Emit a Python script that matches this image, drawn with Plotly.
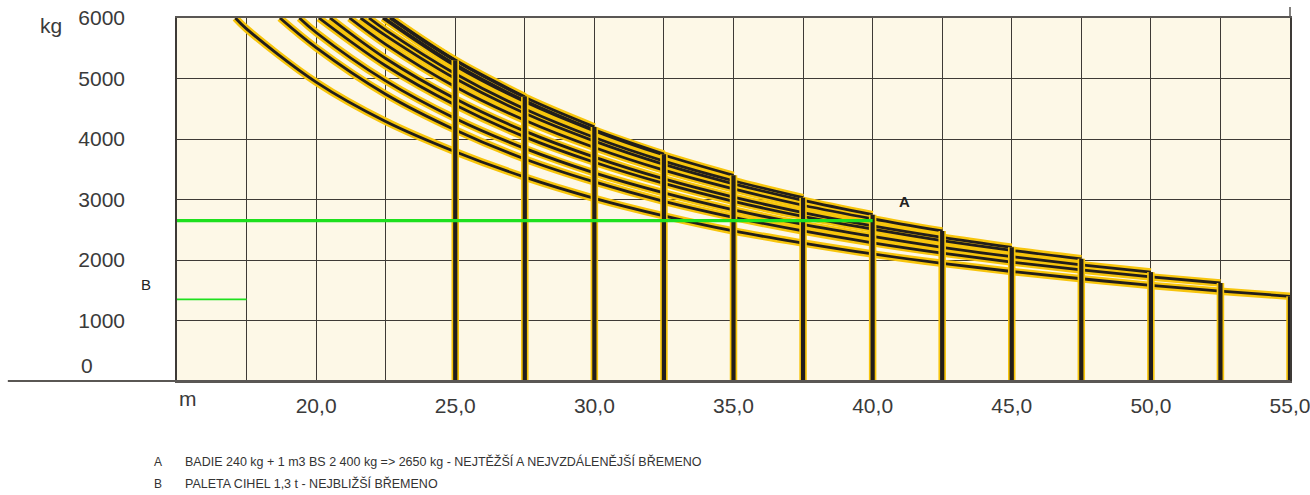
import plotly.graph_objects as go

# ---- data ----
jib_lengths = [25, 27.5, 30, 32.5, 35, 37.5, 40, 42.5, 45, 47.5, 50, 52.5, 55]
tip_loads = [5300, 4700, 4200, 3750, 3400, 3030, 2750, 2480, 2210, 2020, 1800, 1620, 1400]

r_j25 = [22.7, 23.75, 25]
kg_j25 = [6000, 5655, 5300]
r_j27_5 = [22.7, 25, 27.5]
kg_j27_5 = [6000, 5305, 4700]
r_j30 = [22.65, 25, 27.5, 30]
kg_j30 = [6000, 5295, 4690, 4200]
r_j32_5 = [22.45, 25, 27.5, 30, 32.5]
kg_j32_5 = [6000, 5235, 4635, 4150, 3750]
r_j35 = [22.4, 25, 27.5, 30, 32.5, 35]
kg_j35 = [6000, 5210, 4615, 4135, 3735, 3400]
r_j37_5 = [21.9, 22.5, 25, 27.5, 30, 32.5, 35, 37.5]
kg_j37_5 = [6000, 5800, 5080, 4495, 4025, 3635, 3310, 3030]
r_j40 = [21.6, 22.5, 25, 27.5, 30, 32.5, 35, 37.5, 40]
kg_j40 = [6000, 5710, 5000, 4425, 3965, 3580, 3260, 2985, 2750]
r_j42_5 = [21.2, 22.5, 25, 27.5, 30, 32.5, 35, 37.5, 40, 42.5]
kg_j42_5 = [6000, 5565, 4865, 4310, 3860, 3485, 3175, 2905, 2680, 2480]
r_j45 = [20.5, 22.5, 25, 27.5, 30, 32.5, 35, 37.5, 40, 42.5, 45]
kg_j45 = [6000, 5330, 4665, 4130, 3700, 3340, 3040, 2785, 2565, 2375, 2210]
r_j47_5 = [20.1, 22.5, 25, 27.5, 30, 32.5, 35, 37.5, 40, 42.5, 45, 47.5]
kg_j47_5 = [6000, 5210, 4560, 4035, 3615, 3265, 2970, 2720, 2510, 2320, 2160, 2020]
r_j50 = [19.4, 20, 22.5, 25, 27.5, 30, 32.5, 35, 37.5, 40, 42.5, 45, 47.5, 50]
kg_j50 = [6000, 5760, 4960, 4340, 3845, 3440, 3110, 2830, 2590, 2390, 2210, 2055, 1920, 1800]
r_j52_5 = [18.7, 20, 22.5, 25, 27.5, 30, 32.5, 35, 37.5, 40, 42.5, 45, 47.5, 50, 52.5]
kg_j52_5 = [6000, 5510, 4740, 4150, 3670, 3290, 2970, 2705, 2480, 2285, 2115, 1965, 1835, 1720, 1620]
r_j55 = [17.1, 17.5, 20, 22.5, 25, 27.5, 30, 32.5, 35, 37.5, 40, 42.5, 45, 47.5, 50, 52.5, 55]
kg_j55 = [6000, 5820, 4940, 4290, 3790, 3370, 3020, 2730, 2480, 2280, 2100, 1945, 1810, 1690, 1580, 1485, 1400]

load_A_kg = 2650
load_A_radius = 40
load_B_kg = 1350
load_B_radius = 17.5

x_tick_vals = [20, 25, 30, 35, 40, 45, 50, 55]
x_tick_text = ["20,0", "25,0", "30,0", "35,0", "40,0", "45,0", "50,0", "55,0"]
y_tick_vals = [1000, 2000, 3000, 4000, 5000, 6000]
y_tick_text = ["1000", "2000", "3000", "4000", "5000", "6000"]

note_A = "BADIE 240 kg + 1 m3 BS 2 400 kg => 2650 kg - NEJTĚŽŠÍ A NEJVZDÁLENĚJŠÍ BŘEMENO"
note_B = "PALETA CIHEL 1,3 t - NEJBLIŽŠÍ BŘEMENO"

# ---- figure ----
curves = [(r_j25, kg_j25), (r_j27_5, kg_j27_5), (r_j30, kg_j30), (r_j32_5, kg_j32_5),
          (r_j35, kg_j35), (r_j37_5, kg_j37_5), (r_j40, kg_j40), (r_j42_5, kg_j42_5),
          (r_j45, kg_j45), (r_j47_5, kg_j47_5), (r_j50, kg_j50), (r_j52_5, kg_j52_5),
          (r_j55, kg_j55)]

YELLOW = "#F7C50C"
BLACK = "#221E1B"
GREEN = "#1EE01E"
GRID = "#3E3A36"
FONT = "Liberation Sans, Arial, sans-serif"

fig = go.Figure()

for r, kg in curves:
    fig.add_trace(go.Scatter(x=r, y=kg, mode="lines", line=dict(color=YELLOW, width=7.5, shape="spline"),
                             hoverinfo="skip", showlegend=False))
for r, kg in curves:
    fig.add_trace(go.Scatter(x=r, y=kg, mode="lines", line=dict(color=BLACK, width=2.8, shape="spline"),
                             showlegend=False))

bar_x, bar_y = [], []
for j, e in zip(jib_lengths, tip_loads):
    bar_x += [j, j, None]
    bar_y += [0, e, None]
fig.add_trace(go.Scatter(x=bar_x, y=bar_y, mode="lines", line=dict(color=YELLOW, width=7.5),
                         hoverinfo="skip", showlegend=False))
fig.add_trace(go.Scatter(x=bar_x, y=bar_y, mode="lines", line=dict(color=BLACK, width=4.2),
                         showlegend=False))

fig.add_trace(go.Scatter(x=[15, load_A_radius], y=[load_A_kg, load_A_kg], mode="lines",
                         line=dict(color=GREEN, width=3.2), showlegend=False))
fig.add_trace(go.Scatter(x=[15, load_B_radius], y=[load_B_kg, load_B_kg], mode="lines",
                         line=dict(color=GREEN, width=1.6), showlegend=False))

fig.update_layout(
    width=1310, height=495,
    margin=dict(l=177, r=20, t=18, b=114, autoexpand=False),
    paper_bgcolor="white",
    plot_bgcolor="#FDF8E7",
    font=dict(family=FONT, color="#3A3A3A"),
    showlegend=False,
)
fig.update_xaxes(
    range=[15, 55], tickvals=x_tick_vals, ticktext=x_tick_text,
    tickfont=dict(size=21, color="#3A3A3A", family=FONT),
    showgrid=True, gridcolor=GRID, gridwidth=1.2,
    minor=dict(tickvals=[17.5, 22.5, 27.5, 32.5, 37.5, 42.5, 47.5, 52.5], showgrid=True,
               gridcolor=GRID, gridwidth=1.2),
    showline=True, linecolor="#5A5754", linewidth=1.5, mirror=True,
    ticks="", zeroline=False, ticklabelstandoff=5, automargin=False,
    ticklabeloverflow="allow",
)
fig.update_yaxes(
    range=[0, 6000], tickvals=y_tick_vals, ticktext=y_tick_text,
    tickfont=dict(size=21, color="#3A3A3A", family=FONT),
    showgrid=True, gridcolor=GRID, gridwidth=1.2,
    showline=True, linecolor=GRID, linewidth=1.5, mirror=True,
    ticks="", zeroline=False, ticklabelstandoff=46, automargin=False,
    ticklabeloverflow="allow",
)

# baseline extending left and right border tick above
fig.add_shape(type="line", xref="paper", yref="paper", x0=-0.152, x1=1, y0=0, y1=0,
              line=dict(color="#5A5754", width=2))
fig.add_shape(type="line", xref="paper", yref="paper", x0=1, x1=1, y0=1, y1=1.03,
              line=dict(color="#5A5754", width=1.5))

ann = [
    dict(text="kg", x=-0.1132, y=0.9807, xanchor="center", yanchor="middle", font=dict(size=21)),
    dict(text="0", x=-0.088, y=0.044, xanchor="left", yanchor="middle", font=dict(size=21)),
    dict(text="m", x=0.0, y=-0.048, xanchor="left", yanchor="middle", font=dict(size=21)),
    dict(text="<b>A</b>", x=(904 - 177) / 1113, y=(381 - 201) / 363, xanchor="center", yanchor="middle",
         font=dict(size=15, color="#222")),
    dict(text="B", x=(146 - 177) / 1113, y=(381 - 284) / 363, xanchor="center", yanchor="middle",
         font=dict(size=15, color="#222")),
    dict(text="A", x=(158 - 177) / 1113, y=-0.2231, xanchor="center", yanchor="middle",
         font=dict(size=12, color="#333")),
    dict(text=note_A, x=(183 - 177) / 1113, y=-0.2231, xanchor="left", yanchor="middle",
         font=dict(size=12.5, color="#333")),
    dict(text="B", x=(158 - 177) / 1113, y=-0.2837, xanchor="center", yanchor="middle",
         font=dict(size=12, color="#333")),
    dict(text=note_B, x=(183 - 177) / 1113, y=-0.2837, xanchor="left", yanchor="middle",
         font=dict(size=12.5, color="#333")),
]
for a in ann:
    a.update(xref="paper", yref="paper", showarrow=False)
    fig.add_annotation(**a)

# remove the default 8px page margin so the 1310x495 figure fills the window exactly
fig.write_html("out.html", config={"displayModeBar": False},
               post_script="document.body.style.margin='0px';")
